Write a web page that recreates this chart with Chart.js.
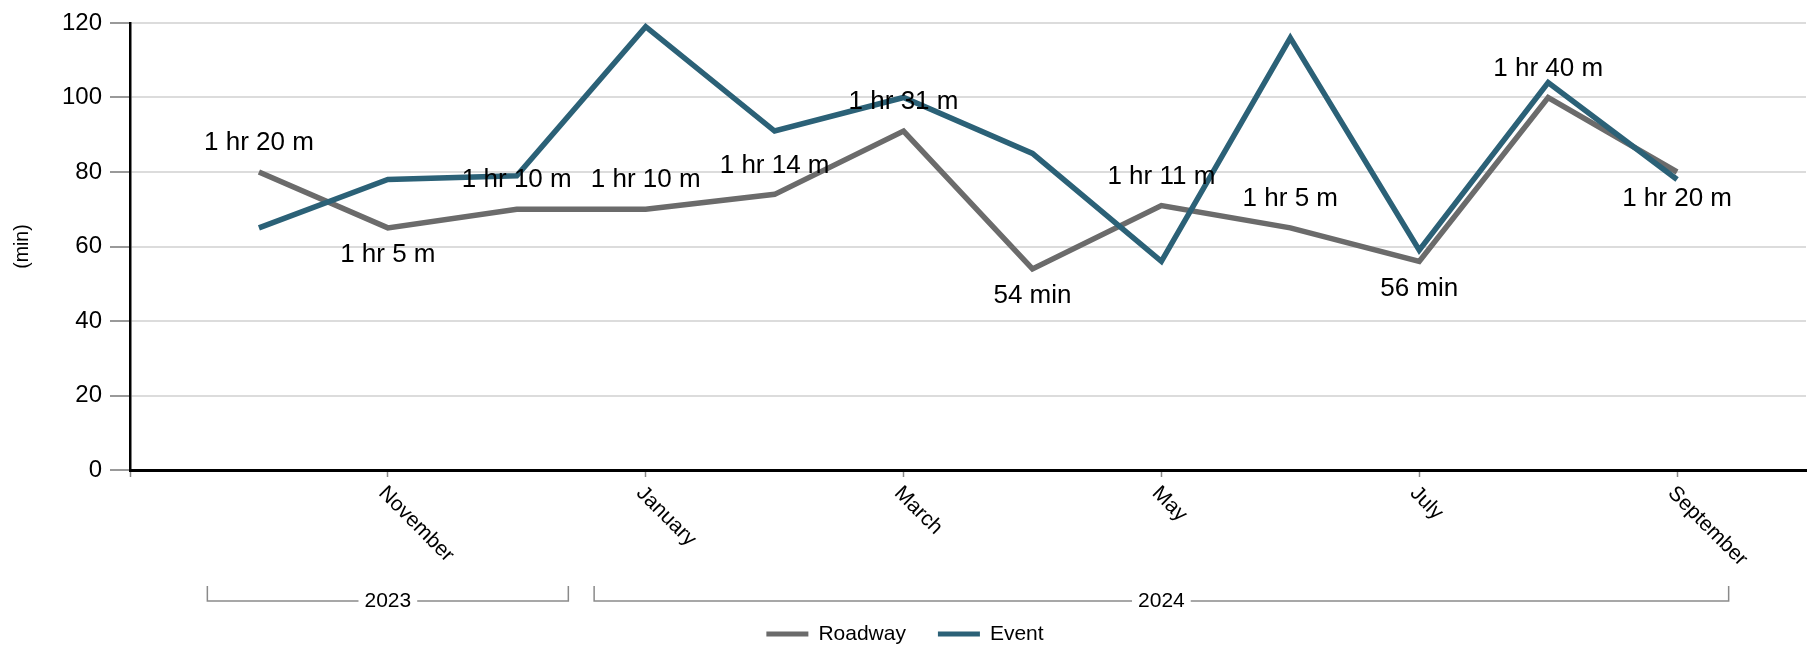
<!DOCTYPE html>
<html>
<head>
<meta charset="utf-8">
<title>Roadway vs Event duration</title>
<script src="https://cdn.jsdelivr.net/npm/chart.js@4/dist/chart.umd.min.js"></script>
<style>
  html, body { margin: 0; padding: 0; background: #fff; }
  canvas { display: block; }
</style>
</head>
<body>
<canvas id="chart" width="1810" height="647"></canvas>
<script>
// monthly durations in minutes, Oct 2023 .. Sep 2024
const months = ['October', 'November', 'December', 'January', 'February', 'March',
  'April', 'May', 'June', 'July', 'August', 'September'];
const years = ['2023', '2023', '2023', '2024', '2024', '2024',
  '2024', '2024', '2024', '2024', '2024', '2024'];
const roadway = [80, 65, 70, 70, 74, 91, 54, 71, 65, 56, 100, 80];
const event = [65, 78, 79, 119, 91, 100, 85, 56, 116, 59, 104, 78];
const yTicks = [0, 20, 40, 60, 80, 100, 120];

const FONT = '"Liberation Sans", Arial, sans-serif';

function fmtDuration(v) {
  if (v < 60) return v + ' min';
  return Math.floor(v / 60) + ' hr ' + (v % 60) + ' m';
}

const toPoints = arr => arr.map((v, i) => ({ x: i, y: v }));

// value labels on the roadway line, under a point when it is a local low
const valueLabels = {
  id: 'valueLabels',
  afterDatasetsDraw(chart) {
    const ctx = chart.ctx;
    const meta = chart.getDatasetMeta(0);
    const vals = chart.data.datasets[0].data.map(p => p.y);
    ctx.save();
    ctx.font = '26px ' + FONT;
    ctx.fillStyle = '#000';
    ctx.textAlign = 'center';
    ctx.textBaseline = 'middle';
    meta.data.forEach((pt, i) => {
      const v = vals[i];
      const prev = vals[i - 1], next = vals[i + 1];
      const low = (prev === undefined || v < prev) && (next === undefined || v < next);
      ctx.fillText(fmtDuration(v), pt.x, low ? pt.y + 27 : pt.y - 29);
    });
    ctx.restore();
  }
};

// rotated month labels, year brackets and legend
const decorations = {
  id: 'decorations',
  afterDraw(chart) {
    const ctx = chart.ctx;
    const x = chart.scales.x;

    ctx.save();
    ctx.fillStyle = '#000';
    ctx.font = '21px ' + FONT;
    ctx.textAlign = 'left';
    ctx.textBaseline = 'middle';
    x.ticks.forEach(t => {
      const name = months[t.value];
      if (!name) return;
      ctx.save();
      ctx.translate(x.getPixelForValue(t.value) - 6, 490);
      ctx.rotate(Math.PI / 4);
      ctx.fillText(name, 0, 0);
      ctx.restore();
    });

    // year groups
    const groups = [];
    years.forEach((y, i) => {
      const g = groups[groups.length - 1];
      if (g && g.year === y) g.last = i;
      else groups.push({ year: y, first: i, last: i });
    });
    ctx.font = '21px ' + FONT;
    ctx.textAlign = 'center';
    ctx.strokeStyle = '#8a8a8a';
    ctx.lineWidth = 1.5;
    const by = 601;
    groups.forEach(g => {
      const x0 = x.getPixelForValue(g.first - 0.4);
      const x1 = x.getPixelForValue(g.last + 0.4);
      const cx = (x0 + x1) / 2;
      const half = ctx.measureText(g.year).width / 2 + 6;
      ctx.beginPath();
      ctx.moveTo(x0, by - 15);
      ctx.lineTo(x0, by);
      ctx.lineTo(cx - half, by);
      ctx.moveTo(cx + half, by);
      ctx.lineTo(x1, by);
      ctx.lineTo(x1, by - 15);
      ctx.stroke();
      ctx.fillText(g.year, cx, by);
    });

    // legend
    ctx.font = '21px ' + FONT;
    ctx.textAlign = 'left';
    const sets = chart.data.datasets;
    const sw = 42, gap = 10, between = 32;
    const widths = sets.map(d => sw + gap + ctx.measureText(d.label).width);
    const total = widths.reduce((a, b) => a + b, 0) + between * (sets.length - 1);
    let lx = (chart.width - total) / 2;
    const ly = 634;
    sets.forEach((d, i) => {
      ctx.strokeStyle = d.borderColor;
      ctx.lineWidth = 5;
      ctx.beginPath();
      ctx.moveTo(lx, ly);
      ctx.lineTo(lx + sw, ly);
      ctx.stroke();
      ctx.fillText(d.label, lx + sw + gap, ly);
      lx += widths[i] + between;
    });
    ctx.restore();
  }
};

new Chart(document.getElementById('chart'), {
  type: 'line',
  data: {
    datasets: [
      {
        label: 'Roadway',
        data: toPoints(roadway),
        borderColor: '#6b6b6b',
        borderWidth: 5.5,
        order: 1,
      },
      {
        label: 'Event',
        data: toPoints(event),
        borderColor: '#2b6177',
        borderWidth: 5.5,
        order: 0,
      },
    ],
  },
  options: {
    responsive: false,
    animation: false,
    devicePixelRatio: 1,
    layout: { padding: { top: 23, right: 4, left: 0, bottom: 0 } },
    elements: {
      line: { tension: 0, borderJoinStyle: 'miter', borderCapStyle: 'butt' },
      point: { radius: 0, hoverRadius: 0 },
    },
    plugins: {
      legend: { display: false },
      tooltip: { enabled: false },
    },
    scales: {
      x: {
        type: 'linear',
        min: -1,
        max: months.length,
        afterBuildTicks: s => {
          s.ticks = [-1, 1, 3, 5, 7, 9, 11].map(v => ({ value: v }));
        },
        afterFit: s => { s.height = 177; },
        ticks: { display: false },
        grid: {
          display: true,
          drawOnChartArea: false,
          drawTicks: true,
          tickLength: 7,
          tickColor: '#888',
          tickWidth: 1.5,
        },
        border: { color: '#000', width: 3 },
      },
      y: {
        min: 0,
        max: 120,
        afterBuildTicks: s => {
          s.ticks = yTicks.map(v => ({ value: v }));
        },
        afterFit: s => { s.width = 130; },
        ticks: {
          color: '#000',
          padding: 8,
          font: { family: FONT, size: 24 },
        },
        grid: {
          color: '#dcdcdc',
          lineWidth: 2,
          tickLength: 20,
          tickColor: '#777',
          tickWidth: 1.5,
        },
        border: { color: '#000', width: 2.5 },
        title: {
          display: true,
          text: '(min)',
          color: '#000',
          padding: { top: 11, bottom: 0 },
          font: { family: FONT, size: 19.5 },
        },
      },
    },
  },
  plugins: [valueLabels, decorations],
});
</script>
</body>
</html>
